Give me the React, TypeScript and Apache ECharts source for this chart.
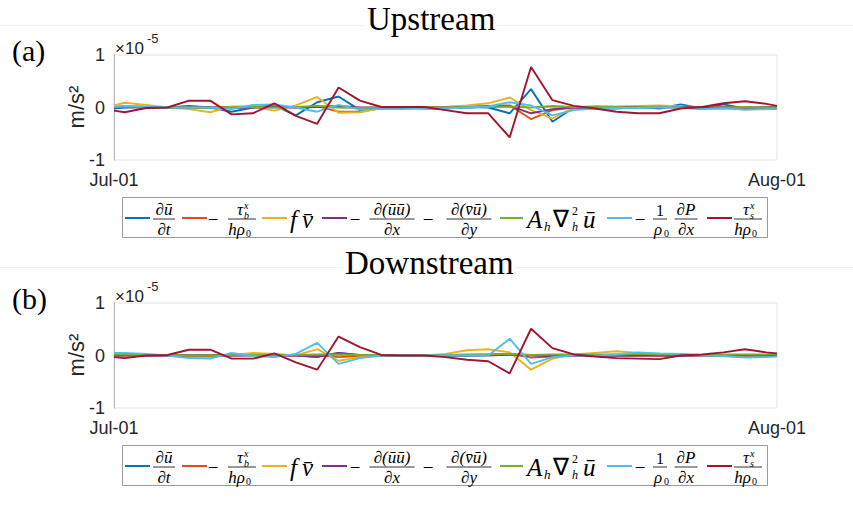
import React, { useEffect, useRef } from "react";
import * as echarts from "echarts";

// x positions in days after Jul-01
const DAYS = [0, 0.5, 1.5, 2.5, 3.5, 4.5, 5.5, 6.5, 7.5, 8.5, 9.5, 10.5, 11.5, 12.5, 13.5, 14.5, 15.5, 16.5, 17.5, 18.5, 19.5, 20.5, 21.5, 22.5, 23.5, 24.5, 25.5, 26.5, 27.5, 28.5, 29.5, 30.5, 31];
const X_TICK_LABELS = ["Jul-01", "Aug-01"];
const Y_TICKS = [-1, 0, 1];
const TITLES = ["Upstream", "Downstream"];
const PANEL_LABELS = ["(a)", "(b)"];

const SERIES_NAMES = [
  "∂ū/∂t",
  "−τ_b^x/(hρ0)",
  "f v̄",
  "−∂(ūū)/∂x − ∂(v̄ū)/∂y",
  "A_h ∇²_h ū",
  "−(1/ρ0) ∂P/∂x",
  "τ_s^x/(hρ0)",
];
const COLORS = ["#0072BD", "#D95319", "#EDB120", "#7E2F8E", "#77AC30", "#4DBEEE", "#A2142F"];

// Upstream (units of 1e-5 m/s^2)
const UP_DUDT = [-0.02, 0, 0.01, 0, 0.03, 0, -0.08, 0, 0.04, -0.15, 0.1, 0.21, -0.05, 0, 0, -0.02, -0.02, 0.01, 0, -0.11, 0.35, -0.27, 0, -0.02, -0.02, 0.01, -0.02, 0.06, -0.02, 0.06, -0.02, 0, 0.01];
const UP_BOTTOM = [0.01, 0.02, 0.01, 0, -0.01, 0, 0.01, 0.02, 0.02, 0, 0.02, -0.08, -0.08, -0.01, 0, 0, 0.01, 0.02, 0.03, 0.04, -0.22, -0.05, 0, 0.01, 0.01, 0.02, 0.01, 0, 0.01, 0.01, 0, 0, 0.01];
const UP_CORIOLIS = [0.04, 0.09, 0.05, 0, -0.03, -0.09, 0.02, 0.01, -0.06, 0.04, 0.2, -0.1, -0.09, -0.01, 0, 0, 0.01, 0.04, 0.08, 0.19, -0.05, -0.21, 0, 0.02, 0.02, 0.03, 0.04, 0.02, 0.01, 0, -0.04, -0.03, 0.01];
const UP_ADV = [0, 0.01, 0, 0, 0.01, 0, -0.01, 0, 0.01, 0, 0.01, 0.03, 0, 0, 0, 0, 0, 0, 0.02, 0.03, -0.11, -0.03, 0, 0, 0.01, 0, 0, 0.01, 0, 0, 0, 0, 0];
const UP_DIFF = [0.01, 0.02, 0.01, 0, 0, -0.01, 0, 0.01, 0, 0.01, 0.03, 0, -0.01, 0, 0, 0, 0, 0.01, 0.01, 0.02, 0, 0.03, 0.01, 0.02, 0.01, 0, 0.02, 0, -0.03, 0, 0.01, 0, 0];
const UP_PRESS = [0.01, 0.03, 0.02, 0, 0, 0, -0.03, 0.05, 0.06, 0, -0.08, 0.05, -0.04, -0.03, -0.03, -0.02, -0.02, 0, 0.02, 0.1, 0.04, -0.15, -0.05, -0.02, -0.01, -0.01, 0, 0, -0.03, -0.02, -0.04, -0.03, -0.03];
const UP_WIND = [-0.06, -0.09, -0.01, 0, 0.13, 0.13, -0.13, -0.11, 0.08, -0.16, -0.31, 0.38, 0.13, 0.01, 0.01, 0.01, -0.05, -0.11, -0.11, -0.57, 0.77, 0.14, 0.03, -0.02, -0.08, -0.11, -0.11, -0.02, 0.01, 0.08, 0.12, 0.07, 0.03];

// Downstream
const DN_DUDT = [0.02, 0.02, 0.01, 0, 0, 0, 0.01, 0.01, 0.02, 0, -0.02, 0.05, 0, 0, 0, 0, 0, 0, 0.01, 0.02, 0.01, 0, 0, 0, 0, 0.01, 0, 0, 0, 0.01, 0, 0.01, 0.02];
const DN_BOTTOM = [0, 0, 0, 0, 0, 0, 0, 0.01, 0, 0, 0.01, -0.03, -0.01, 0, 0, 0, 0, 0.01, 0.02, 0.03, -0.04, -0.02, 0, 0, 0, 0, 0, 0, 0, 0, 0, 0, 0];
const DN_CORIOLIS = [0.01, 0.01, 0.01, 0, -0.03, -0.03, 0.01, 0.05, 0.03, 0, 0.12, -0.1, -0.03, 0, 0, 0, 0.03, 0.1, 0.12, 0.06, -0.27, -0.06, 0.02, 0.05, 0.08, 0.05, 0.02, 0, -0.01, -0.01, -0.03, 0, 0.02];
const DN_ADV = [0, 0, 0, 0, 0, 0, 0, 0, 0, 0, -0.03, 0.05, 0.01, 0, 0, 0, 0, 0, 0, 0.02, 0, -0.01, 0, 0, 0, 0, 0, 0, 0, 0, 0, 0, 0];
const DN_DIFF = [0.02, 0.02, 0.01, 0.01, 0, 0, 0.01, 0.01, 0.01, 0.01, 0.02, 0.02, 0.01, 0.01, 0, 0, 0.01, 0.02, 0.02, 0.03, 0.01, 0.02, 0.02, 0.02, 0.02, 0.03, 0.02, 0.02, 0.01, 0.02, 0.02, 0.02, 0.03];
const DN_PRESS = [0.05, 0.05, 0.03, 0, -0.05, -0.06, 0.05, -0.01, -0.03, 0.03, 0.24, -0.16, -0.05, 0, 0, 0, 0, 0, 0, 0.32, -0.16, -0.03, 0, 0, 0.02, 0.06, 0.04, 0.03, 0, -0.01, -0.04, -0.03, -0.02];
const DN_WIND = [-0.03, -0.05, 0, 0.01, 0.11, 0.11, -0.06, -0.06, 0.04, -0.13, -0.27, 0.36, 0.16, 0.01, 0, 0, -0.03, -0.08, -0.11, -0.34, 0.51, 0.14, 0.02, -0.02, -0.05, -0.06, -0.07, 0, 0.02, 0.06, 0.12, 0.06, 0.04];

const PANELS = [
  [UP_DUDT, UP_BOTTOM, UP_CORIOLIS, UP_ADV, UP_DIFF, UP_PRESS, UP_WIND],
  [DN_DUDT, DN_BOTTOM, DN_CORIOLIS, DN_ADV, DN_DIFF, DN_PRESS, DN_WIND],
];

const SERIF = "'Liberation Serif', 'Times New Roman', serif";
const SANS = "'Liberation Sans', Arial, sans-serif";
const AX = "#262626";

function t(x: number, y: number, s: string, size: number, opts: any = {}) {
  return {
    type: "text",
    x,
    y,
    silent: true,
    z: 20,
    style: {
      text: s,
      fontSize: size,
      fontFamily: opts.family || SERIF,
      fontStyle: opts.italic === false ? "normal" : "italic",
      fill: opts.fill || "#000",
      align: opts.align || "left",
      verticalAlign: opts.va || "middle",
    },
  };
}
function hline(x1: number, x2: number, y: number, color: string, w: number, z = 20) {
  return { type: "line", silent: true, z, shape: { x1, y1: y, x2, y2: y }, style: { stroke: color, lineWidth: w } };
}
function frac(cx: number, w: number, bar: number, num: any[], den: any[]) {
  return [hline(cx - w / 2, cx + w / 2, bar, "#000", 0.8), ...num, ...den];
}
function tauFrac(cx: number, bar: number, sub: string) {
  return frac(
    cx,
    28,
    bar,
    [t(cx + 1, bar - 1, "τ", 17, { align: "right", va: "bottom" }), t(cx + 2, bar - 14, "x", 10), t(cx + 2, bar - 4, sub, 10)],
    [t(cx + 3, bar + 1.5, "hρ", 17, { align: "right", va: "top" }), t(cx + 4, bar + 14, "0", 10, { italic: false })]
  );
}

function legendGraphics(dy: number) {
  const ly = 218 + dy;
  const bar = 219 + dy;
  const els: any[] = [];
  els.push({
    type: "rect",
    silent: true,
    z: 15,
    shape: { x: 122.5, y: 197.5 + dy, width: 645, height: 40 },
    style: { fill: "#fff", stroke: "#9a9a9a", lineWidth: 1 },
  });
  const lines = [
    [125, 150],
    [182, 207],
    [262, 287],
    [322, 347],
    [500, 523],
    [607, 632],
    [707, 732],
  ];
  lines.forEach((l, i) => els.push(hline(l[0], l[1], ly, COLORS[i], 2)));
  // 1: du/dt
  els.push(...frac(164, 22, bar, [t(164, bar - 1, "∂ū", 17, { align: "center", va: "bottom" })], [t(164, bar + 1.5, "∂t", 17, { align: "center", va: "top" })]));
  // 2: -tau_b/(h rho0)
  els.push(t(213, bar, "−", 19, { italic: false, align: "center" }));
  els.push(...tauFrac(242, bar, "b"));
  // 3: f v
  els.push(t(290, bar, "f", 25));
  els.push(t(302, bar, "v̄", 25));
  // 4: advection
  els.push(t(355, bar, "−", 19, { italic: false, align: "center" }));
  els.push(...frac(392, 45, bar, [t(392, bar - 1, "∂(ūū)", 17, { align: "center", va: "bottom" })], [t(392, bar + 1.5, "∂x", 17, { align: "center", va: "top" })]));
  els.push(t(428, bar, "−", 19, { italic: false, align: "center" }));
  els.push(...frac(469, 45, bar, [t(469, bar - 1, "∂(v̄ū)", 17, { align: "center", va: "bottom" })], [t(469, bar + 1.5, "∂y", 17, { align: "center", va: "top" })]));
  // 5: diffusion
  els.push(t(527, bar, "A", 25));
  els.push(t(544, bar + 7, "h", 13));
  els.push(t(553, bar, "∇", 24, { italic: false }));
  els.push(t(572, bar - 8, "2", 12, { italic: false }));
  els.push(t(572, bar + 8, "h", 12));
  els.push(t(583, bar, "ū", 25));
  // 6: pressure gradient
  els.push(t(640, bar, "−", 19, { italic: false, align: "center" }));
  els.push(...frac(660, 14, bar, [t(660, bar - 1, "1", 16, { align: "center", va: "bottom", italic: false })], [t(658, bar + 1.5, "ρ", 17, { align: "center", va: "top" }), t(664, bar + 14, "0", 10, { italic: false })]));
  els.push(...frac(686, 23, bar, [t(686, bar - 1, "∂P", 17, { align: "center", va: "bottom" })], [t(686, bar + 1.5, "∂x", 17, { align: "center", va: "top" })]));
  // 7: wind stress
  els.push(...tauFrac(748, bar, "s"));
  return els;
}

function panelGraphics(dy: number, i: number) {
  return [
    t(12, 50 + dy, PANEL_LABELS[i], 30, { italic: false }),
    t(115, 48 + dy, "×10", 17, { italic: false, family: SANS, fill: AX }),
    t(147, 38 + dy, "-5", 13, { italic: false, family: SANS, fill: AX }),
    {
      type: "text",
      x: 76,
      y: 107 + dy,
      rotation: Math.PI / 2,
      silent: true,
      style: { text: "m/s²", fontSize: 22, fontFamily: SANS, fill: AX, align: "center", verticalAlign: "middle" },
    },
  ];
}

export default function App() {
  const ref = useRef<HTMLDivElement>(null);
  useEffect(() => {
    if (!ref.current) return;
    const chart = echarts.init(ref.current, null, { renderer: "svg" });
    const tops = [55, 303];
    const grids = tops.map((top) => ({
      left: 114,
      top,
      width: 663,
      height: 105,
      show: true,
      borderColor: "#e3e3e3",
      borderWidth: 1,
      backgroundColor: "#fff",
    }));
    const xAxes = tops.map((_, i) => ({
      type: "value",
      gridIndex: i,
      min: 0,
      max: 31,
      interval: 31,
      axisLine: { show: true, lineStyle: { color: "#b5b5b5", width: 1 } },
      axisTick: { show: false },
      splitLine: { show: false },
      axisLabel: {
        show: true,
        margin: 11,
        fontSize: 18,
        fontFamily: SANS,
        color: AX,
        showMinLabel: true,
        showMaxLabel: true,
        formatter: (v: number) => (v === 0 ? X_TICK_LABELS[0] : v === 31 ? X_TICK_LABELS[1] : ""),
      },
    }));
    const yAxes = tops.map((_, i) => ({
      type: "value",
      gridIndex: i,
      min: Y_TICKS[0],
      max: Y_TICKS[Y_TICKS.length - 1],
      interval: 1,
      axisLine: { show: true, lineStyle: { color: "#b5b5b5", width: 1 } },
      axisTick: { show: false },
      splitLine: { show: false },
      axisLabel: { margin: 9, fontSize: 18, fontFamily: SANS, color: AX },
    }));
    const series: any[] = [];
    PANELS.forEach((arrs, p) => {
      arrs.forEach((arr, k) => {
        series.push({
          type: "line",
          name: SERIES_NAMES[k],
          xAxisIndex: p,
          yAxisIndex: p,
          data: DAYS.map((d, j) => [d, arr[j]]),
          showSymbol: false,
          symbol: "none",
          lineStyle: { color: COLORS[k], width: 1.9 },
          itemStyle: { color: COLORS[k] },
          z: 2 + k,
        });
      });
    });
    const titleStyle = { fontFamily: SERIF, fontSize: 33, fontWeight: "normal", color: "#000" };
    chart.setOption({
      animation: false,
      backgroundColor: "#fff",
      title: [
        { text: TITLES[0], left: 365, top: 0, padding: [2, 2, 0, 2], backgroundColor: "#fff", z: 30, textStyle: titleStyle },
        { text: TITLES[1], left: 343, top: 244, padding: [2, 2, 0, 2], backgroundColor: "#fff", z: 30, textStyle: titleStyle },
      ],
      grid: grids,
      xAxis: xAxes,
      yAxis: yAxes,
      series,
      graphic: [
        hline(0, 853, 25.5, "#f1f1f1", 1, 0),
        hline(0, 853, 267.5, "#f1f1f1", 1, 0),
        ...panelGraphics(0, 0),
        ...panelGraphics(248, 1),
        ...legendGraphics(0),
        ...legendGraphics(248),
      ],
    });
    return () => chart.dispose();
  }, []);
  return <div ref={ref} style={{ position: "absolute", left: 0, top: 0, width: 853, height: 511 }} />;
}
